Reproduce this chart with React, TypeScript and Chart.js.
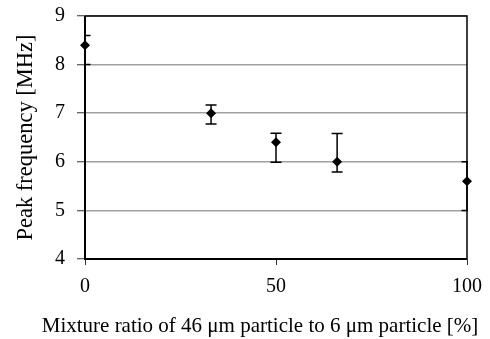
import React, { useEffect, useRef } from "react";
import { Chart, registerables } from "chart.js";

Chart.register(...registerables);

const ratios = [0, 33, 50, 66, 100];
const peakFreq = [8.4, 7.0, 6.4, 6.0, 5.6];
const errUpper = [8.6, 7.17, 6.59, 6.58, 6.0];
const errLower = [8.0, 6.78, 5.99, 5.79, 5.0];
const yTitle = "Peak frequency [MHz]";
const xTitle = "Mixture ratio of 46 \u03bcm particle to 6 \u03bcm particle [%]";

const FONT = "'Liberation Serif', 'Times New Roman', serif";

const framePlugin = {
  id: "frameAndErrors",
  beforeDatasetsDraw(chart: any) {
    const { ctx, chartArea } = chart;
    const { left, right, top, bottom } = chartArea;
    ctx.save();
    ctx.strokeStyle = "#000";
    ctx.lineWidth = 1.5;
    ctx.beginPath();
    ctx.moveTo(left, top);
    ctx.lineTo(right, top);
    ctx.lineTo(right, bottom);
    ctx.stroke();
    ctx.lineWidth = 2;
    ctx.beginPath();
    ctx.moveTo(left, top);
    ctx.lineTo(left, bottom);
    ctx.lineTo(right, bottom);
    ctx.stroke();

    ctx.beginPath();
    ctx.rect(left - 1, top, right - left + 2, bottom - top);
    ctx.clip();
    const xs = chart.scales.x;
    const ys = chart.scales.y;
    ctx.lineWidth = 1.5;
    for (let i = 0; i < ratios.length; i++) {
      const px = xs.getPixelForValue(ratios[i]);
      const pu = ys.getPixelForValue(errUpper[i]);
      const pl = ys.getPixelForValue(errLower[i]);
      ctx.beginPath();
      ctx.moveTo(px, pu);
      ctx.lineTo(px, pl);
      ctx.moveTo(px - 5.5, pu);
      ctx.lineTo(px + 5.5, pu);
      ctx.moveTo(px - 5.5, pl);
      ctx.lineTo(px + 5.5, pl);
      ctx.stroke();
    }
    ctx.restore();
  },
  afterDraw(chart: any) {
    const { ctx, chartArea } = chart;
    ctx.save();
    ctx.fillStyle = "#000";
    ctx.font = `21px ${FONT}`;
    ctx.textAlign = "center";
    ctx.textBaseline = "middle";
    ctx.fillText(xTitle, (chartArea.left + chartArea.right) / 2 - 16, 326);
    ctx.restore();
  },
};

export default function App() {
  const ref = useRef<HTMLCanvasElement>(null);
  useEffect(() => {
    if (!ref.current) return;
    const chart = new Chart(ref.current, {
      type: "scatter",
      data: {
        datasets: [
          {
            data: ratios.map((r, i) => ({ x: r, y: peakFreq[i] })),
            pointStyle: "rectRot",
            pointRadius: 5,
            backgroundColor: "#000",
            borderColor: "#000",
            borderWidth: 0,
            clip: false,
          } as any,
        ],
      },
      options: {
        responsive: false,
        animation: false,
        layout: { padding: { top: 16, right: 23, left: 0, bottom: 0 } },
        plugins: { legend: { display: false }, tooltip: { enabled: false } },
        scales: {
          x: {
            type: "linear",
            min: 0,
            max: 100,
            afterFit: (s: any) => {
              s.height = 80;
              s.paddingLeft = 0;
              s.paddingRight = 0;
            },
            ticks: {
              stepSize: 50,
              color: "#000",
              font: { family: FONT, size: 20 },
              padding: 10,
            },
            grid: {
              drawOnChartArea: false,
              tickLength: 6,
              tickColor: "#333",
              tickWidth: 1,
            },
            border: { display: false },
          },
          y: {
            min: 4,
            max: 9,
            afterFit: (s: any) => {
              s.width = 85;
              s.paddingTop = 0;
              s.paddingBottom = 0;
            },
            ticks: {
              stepSize: 1,
              color: "#000",
              font: { family: FONT, size: 20 },
              padding: 12,
            },
            grid: {
              color: "#a0a0a0",
              lineWidth: 1.5,
              tickLength: 8,
              tickColor: "#333",
              tickWidth: 1,
            },
            border: { display: false },
            title: {
              display: true,
              text: yTitle,
              color: "#000",
              font: { family: FONT, size: 22.5 },
              padding: { top: 13, bottom: 0 },
            },
          },
        },
      },
      plugins: [framePlugin],
    });
    return () => chart.destroy();
  }, []);
  return (
    <div style={{ position: "fixed", left: 0, top: 0, width: 490, height: 339, background: "#fff" }}>
      <canvas ref={ref} width={490} height={339} />
    </div>
  );
}
